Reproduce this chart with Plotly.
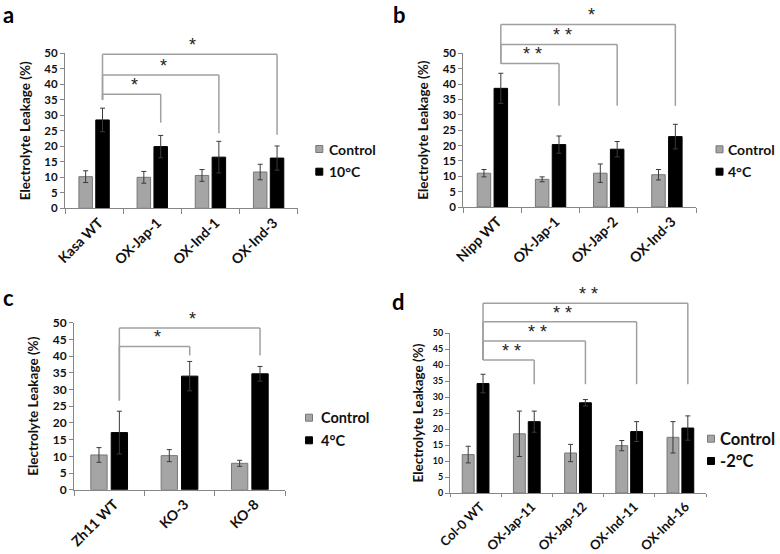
import plotly.graph_objects as go

W, H = 780, 554
FONT = "Lato"

# ---------------- data ----------------
control_label = "Control"

a_categories = ["Kasa WT", "OX-Jap-1", "OX-Ind-1", "OX-Ind-3"]
a_control = [10.2, 10.0, 10.6, 11.7]
a_control_err = [1.9, 1.9, 1.9, 2.5]
a_cold = [28.5, 19.9, 16.5, 16.2]
a_cold_err = [3.8, 3.6, 5.1, 3.9]
a_cold_label = "10°C"
a_sig = [(1, 36.8, 27.6, "*"), (2, 43.0, 24.2, "*"), (3, 49.7, 23.7, "*")]
a_sig_base = 35.0

b_categories = ["Nipp WT", "OX-Jap-1", "OX-Jap-2", "OX-Ind-3"]
b_control = [11.0, 9.0, 11.0, 10.5]
b_control_err = [1.2, 0.8, 3.0, 1.7]
b_cold = [38.6, 20.3, 18.8, 22.9]
b_cold_err = [4.9, 2.8, 2.5, 4.0]
b_cold_label = "4°C"
b_sig = [(1, 46.7, 32.9, "* *"), (2, 52.9, 32.9, "* *"), (3, 59.4, 32.9, "*")]
b_sig_base = 46.7

c_categories = ["Zh11 WT", "KO-3", "KO-8"]
c_control = [10.4, 10.2, 7.9]
c_control_err = [2.2, 1.8, 0.9]
c_cold = [17.1, 34.0, 34.7]
c_cold_err = [6.4, 4.4, 2.2]
c_cold_label = "4°C"
c_sig = [(1, 42.9, 40.2, "*"), (2, 48.4, 40.2, "*")]
c_sig_base = 26.7

d_categories = ["Col-0 WT", "OX-Jap-11", "OX-Jap-12", "OX-Ind-11", "OX-Ind-16"]
d_control = [12.0, 18.5, 12.5, 14.8, 17.4]
d_control_err = [2.6, 7.1, 2.7, 1.6, 4.9]
d_cold = [34.2, 22.3, 28.2, 19.2, 20.3]
d_cold_err = [2.9, 3.3, 1.0, 3.1, 3.8]
d_cold_label = "-2°C"
d_sig = [(1, 41.6, 34.0, "* *"), (2, 47.5, 34.0, "* *"), (3, 53.5, 34.0, "* *"), (4, 59.3, 34.0, "* *")]
d_sig_base = 41.6

y_ticks = list(range(0, 51, 5))
y_title = "Electrolyte Leakage (%)"

# ---------------- layout geometry (pixels) ----------------
panels = [
    dict(letter="a", cats=a_categories, ctrl=a_control, ctrl_err=a_control_err,
         cold=a_cold, cold_err=a_cold_err, cold_label=a_cold_label, sig=a_sig, base=a_sig_base,
         box=(65, 297.7, 53.3, 208.3), ytick=11.5, standoff=10, xtick=14, xticklen=5,
         leg=(319.3, 326.7, 149.0, 171.7, 14), let=(2, 0, "top")),
    dict(letter="b", cats=b_categories, ctrl=b_control, ctrl_err=b_control_err,
         cold=b_cold, cold_err=b_cold_err, cold_label=b_cold_label, sig=b_sig, base=b_sig_base,
         box=(463.3, 696, 53.3, 207), ytick=11.5, standoff=10, xtick=14, xticklen=5,
         leg=(719.5, 725.5, 149.3, 171.7, 14), let=(392, 0, "top")),
    dict(letter="c", cats=c_categories, ctrl=c_control, ctrl_err=c_control_err,
         cold=c_cold, cold_err=c_cold_err, cold_label=c_cold_label, sig=c_sig, base=c_sig_base,
         box=(74, 285, 322.7, 489.7), ytick=12, standoff=10, xtick=14, xticklen=5,
         leg=(309, 318.5, 417.7, 440.3, 14.5), let=(2, 297, "middle")),
    dict(letter="d", cats=d_categories, ctrl=d_control, ctrl_err=d_control_err,
         cold=d_cold, cold_err=d_cold_err, cold_label=d_cold_label, sig=d_sig, base=d_sig_base,
         box=(450, 706, 333, 493), ytick=9, standoff=6, xtick=13, xticklen=3,
         leg=(711, 718, 438.7, 461, 16.5), let=(391, 301, "middle")),
]

CTRL_FILL = "#a5a5a5"
CTRL_LINE = "#777777"
BRACKET = "#a0a0a0"
AXIS = "#868686"
OFF = 0.145  # offset of the second bar of a group from the category centre

fig = go.Figure()
shapes, annotations = [], []
layout = {}

for i, p in enumerate(panels):
    s = "" if i == 0 else str(i + 1)
    xa, ya = "x" + s, "y" + s
    x0, x1, yt, yb = p["box"]
    err_style = dict(type="data", color="#3a3a3a", thickness=1, width=2.5, visible=True)
    fig.add_trace(go.Bar(
        x=p["cats"], y=p["ctrl"], name=control_label, xaxis=xa, yaxis=ya, showlegend=False,
        marker=dict(color=CTRL_FILL, line=dict(color=CTRL_LINE, width=1)),
        error_y=dict(array=p["ctrl_err"], **err_style)))
    fig.add_trace(go.Bar(
        x=p["cats"], y=p["cold"], name=p["cold_label"], xaxis=xa, yaxis=ya, showlegend=False,
        marker=dict(color="#000000", line=dict(color="#000000", width=1)),
        error_y=dict(array=p["cold_err"], **err_style)))

    layout["xaxis" + s] = dict(
        domain=[x0 / W, x1 / W], anchor=ya, type="category", automargin=False,
        showline=True, linecolor=AXIS, linewidth=1, mirror=False,
        ticks="outside", tickson="boundaries", ticklen=p["xticklen"], tickcolor=AXIS,
        tickangle=-45, showgrid=False, zeroline=False, ticklabelshift=5,
        tickfont=dict(family=FONT, size=p["xtick"], color="#111111", weight="bold"))
    layout["yaxis" + s] = dict(
        domain=[1 - yb / H, 1 - yt / H], anchor=xa, range=[0, 50], automargin=False,
        tickvals=y_ticks, showline=True, linecolor=AXIS, linewidth=1,
        ticks="outside", ticklen=4, tickcolor=AXIS, showgrid=False, zeroline=False,
        tickfont=dict(family=FONT, size=p["ytick"], color="#111111", weight="bold"),
        title=dict(text=y_title, standoff=p["standoff"],
                   font=dict(family=FONT, size=13.5, color="#111111", weight="bold")))

    # significance brackets
    yd = ya + " domain"
    xl = 0 + OFF
    for (t, top, rb, label) in p["sig"]:
        xr = t + OFF
        ln = dict(color=BRACKET, width=1.5)
        shapes.append(dict(type="line", xref=xa, yref=yd, x0=xl, x1=xl,
                           y0=p["base"] / 50, y1=top / 50, line=ln))
        shapes.append(dict(type="line", xref=xa, yref=yd, x0=xl, x1=xr,
                           y0=top / 50, y1=top / 50, line=ln))
        shapes.append(dict(type="line", xref=xa, yref=yd, x0=xr, x1=xr,
                           y0=top / 50, y1=rb / 50, line=ln))
        annotations.append(dict(text=label, xref=xa, yref=yd, x=(xl + xr) / 2, y=top / 50,
                                xanchor="center", yanchor="middle", yshift=9, xshift=3,
                                showarrow=False,
                                font=dict(family="Liberation Sans", size=18, color="#222222")))

    # legend (manual)
    sx, tx, y1, y2, fs = p["leg"]
    hs = 3.5
    for (yy, fill, line, label) in [(y1, CTRL_FILL, CTRL_LINE, control_label),
                                    (y2, "#000000", "#000000", p["cold_label"])]:
        shapes.append(dict(type="rect", xref="paper", yref="paper",
                           x0=(sx - hs) / W, x1=(sx + hs) / W,
                           y0=1 - (yy + hs) / H, y1=1 - (yy - hs) / H,
                           fillcolor=fill, line=dict(color=line, width=1)))
        annotations.append(dict(text=label, xref="paper", yref="paper",
                                x=tx / W, y=1 - yy / H, xanchor="left", yanchor="middle",
                                showarrow=False,
                                font=dict(family=FONT, size=fs, color="#111111", weight="bold")))

    # panel letter
    lx, ly, lanchor = p["let"]
    annotations.append(dict(text=p["letter"], xref="paper", yref="paper",
                            x=lx / W, y=1 - ly / H, xanchor="left", yanchor=lanchor,
                            showarrow=False, borderpad=0,
                            font=dict(family=FONT, size=22, color="#000000", weight="bold")))

fig.update_layout(
    template="none",
    width=W, height=H, autosize=False,
    margin=dict(l=0, r=0, t=0, b=0, autoexpand=False),
    paper_bgcolor="white", plot_bgcolor="white",
    barmode="group", bargap=0.42, bargroupgap=0.2,
    showlegend=False, shapes=shapes, annotations=annotations,
    **layout)

fig.write_html("out.html", config={"displayModeBar": False},
               post_script="document.body.style.margin='0';document.body.style.overflow='hidden';")
